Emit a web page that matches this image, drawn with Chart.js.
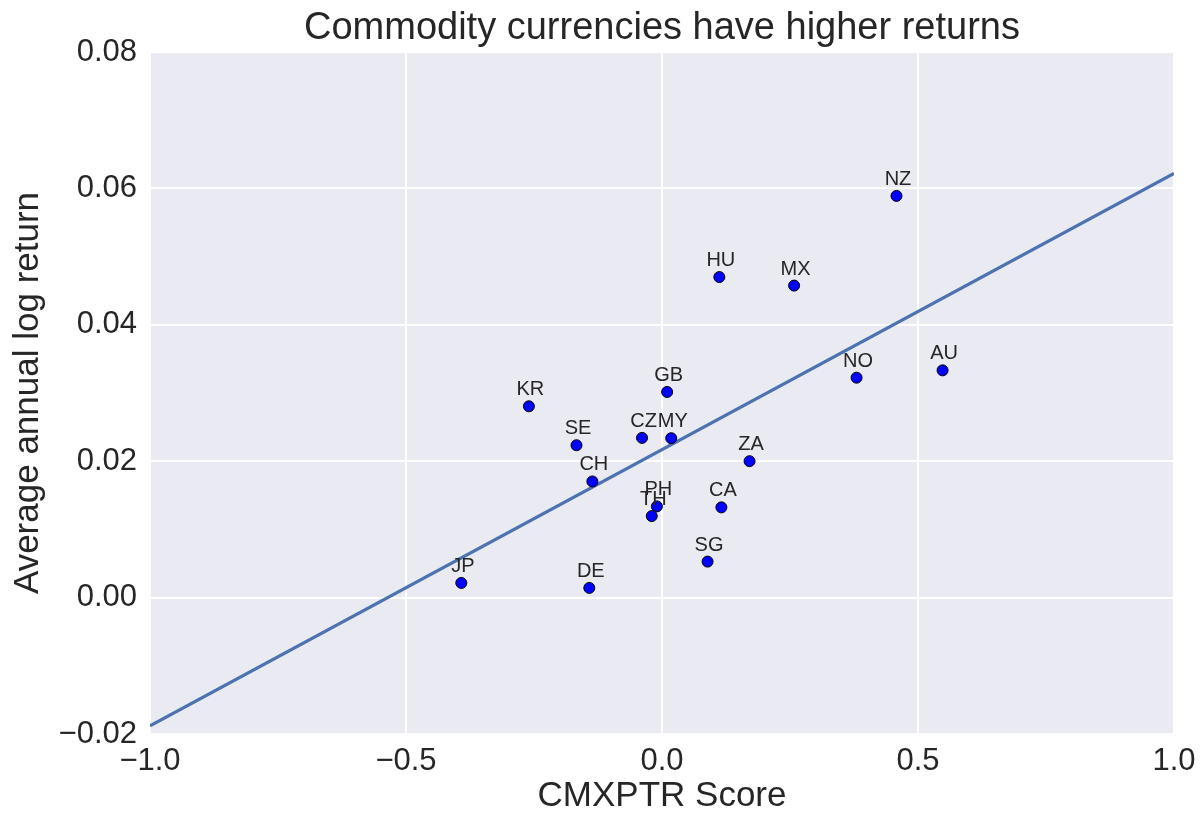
<!DOCTYPE html>
<html>
<head>
<meta charset="utf-8">
<script src="https://cdn.jsdelivr.net/npm/chart.js@4.4.1/dist/chart.umd.min.js"></script>
<style>
  body { margin: 0; background: #fff; }
  #wrap { width: 1202px; height: 814px; }
</style>
</head>
<body>
<div id="wrap"><canvas id="chart" width="1202" height="814"></canvas></div>
<script>
// values
const countries = ['JP', 'DE', 'KR', 'SE', 'CH', 'CZ', 'MY', 'GB', 'PH', 'TH', 'CA', 'SG', 'ZA', 'HU', 'MX', 'NO', 'AU', 'NZ'];
const scores = [-0.392, -0.142, -0.260, -0.167, -0.136, -0.039, 0.018, 0.010, -0.010, -0.020, 0.116, 0.089, 0.171, 0.112, 0.258, 0.380, 0.548, 0.458];
const returns = [0.00215, 0.00142, 0.02805, 0.02234, 0.01703, 0.02342, 0.02337, 0.03015, 0.01337, 0.01195, 0.01323, 0.00528, 0.0200, 0.0470, 0.04575, 0.03225, 0.03332, 0.0589];

// fitted line end points
const fitX = [-1, 1];
const fitY = [-0.0188, 0.0622];

const xTicks = [-1, -0.5, 0, 0.5, 1];
const xTickLabels = ['\u22121.0', '\u22120.5', '0.0', '0.5', '1.0'];
const yTicks = [-0.02, 0, 0.02, 0.04, 0.06, 0.08];
const yTickLabels = ['\u22120.02', '0.00', '0.02', '0.04', '0.06', '0.08'];

const FONT = "'Liberation Sans', Arial, sans-serif";
const TEXT = '#262626';

// grey plot background like seaborn darkgrid
const bgPlugin = {
  id: 'plotBg',
  beforeDraw(chart) {
    const { ctx, chartArea: a } = chart;
    ctx.save();
    ctx.fillStyle = '#EAEAF2';
    ctx.fillRect(a.left, a.top, a.right - a.left, a.bottom - a.top);
    ctx.restore();
  }
};

// country code above each point
const labelPlugin = {
  id: 'pointLabels',
  afterDatasetsDraw(chart) {
    const { ctx, scales } = chart;
    ctx.save();
    ctx.font = '20px ' + FONT;
    ctx.fillStyle = TEXT;
    ctx.textAlign = 'center';
    ctx.textBaseline = 'alphabetic';
    countries.forEach((c, i) => {
      const px = scales.x.getPixelForValue(scores[i]);
      const py = scales.y.getPixelForValue(returns[i]);
      ctx.fillText(c, px + 1.5, py - 11);
    });
    ctx.restore();
  }
};

const ctx = document.getElementById('chart').getContext('2d');
new Chart(ctx, {
  type: 'scatter',
  data: {
    datasets: [
      {
        label: 'countries',
        data: scores.map((s, i) => ({ x: s, y: returns[i] })),
        backgroundColor: '#0000FF',
        borderColor: '#000000',
        borderWidth: 1,
        pointRadius: 5.5,
        order: 0
      },
      {
        type: 'line',
        label: 'fit',
        data: fitX.map((x, i) => ({ x: x, y: fitY[i] })),
        borderColor: '#4C72B0',
        borderWidth: 3.2,
        pointRadius: 0,
        fill: false,
        order: 1
      }
    ]
  },
  options: {
    responsive: false,
    animation: false,
    layout: { padding: { left: 0, right: 28, top: 0, bottom: 0 } },
    plugins: {
      legend: { display: false },
      tooltip: { enabled: false },
      title: {
        display: true,
        text: 'Commodity currencies have higher returns',
        fullSize: false,
        color: TEXT,
        font: { family: FONT, size: 38, weight: 'normal', lineHeight: 1 },
        padding: { top: 10, bottom: 4 }
      }
    },
    scales: {
      x: {
        type: 'linear',
        min: -1,
        max: 1,
        afterBuildTicks(scale) { scale.ticks = xTicks.map(v => ({ value: v })); },
        afterFit(scale) {
          scale.height = 80;
          scale.paddingLeft = 0;
          scale.paddingRight = 0;
        },
        border: { display: false },
        grid: { color: '#FFFFFF', lineWidth: 2, drawTicks: false },
        ticks: {
          color: TEXT,
          padding: 12,
          maxRotation: 0,
          font: { family: FONT, size: 31, lineHeight: 1 },
          callback: (v, i) => xTickLabels[i]
        },
        title: {
          display: true,
          text: 'CMXPTR Score',
          color: TEXT,
          font: { family: FONT, size: 35, lineHeight: 1 },
          padding: { top: 0, bottom: 0 }
        }
      },
      y: {
        type: 'linear',
        min: -0.02,
        max: 0.08,
        afterBuildTicks(scale) { scale.ticks = yTicks.map(v => ({ value: v })); },
        afterFit(scale) { scale.width = 150; },
        border: { display: false },
        grid: { color: '#FFFFFF', lineWidth: 2, drawTicks: false },
        ticks: {
          color: TEXT,
          padding: 13,
          font: { family: FONT, size: 31, lineHeight: 1 },
          callback: (v, i) => yTickLabels[i]
        },
        title: {
          display: true,
          text: 'Average annual log return',
          color: TEXT,
          font: { family: FONT, size: 35, lineHeight: 1 },
          padding: { top: 11, bottom: 0 }
        }
      }
    }
  },
  plugins: [bgPlugin, labelPlugin]
});
</script>
</body>
</html>
